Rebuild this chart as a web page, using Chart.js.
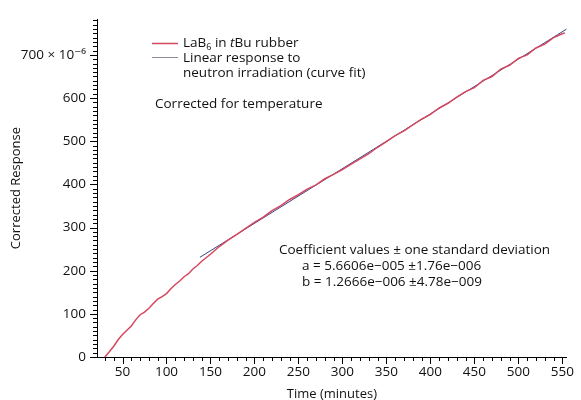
<!doctype html>
<html lang="en">
<head>
  <meta charset="utf-8">
  <title>Corrected response</title>
  <style>
    html, body { margin: 0; padding: 0; background: #fff; }
    #wrap { width: 581px; height: 400px; position: relative; }
  </style>
</head>
<body>
  <div id="wrap"><canvas id="myChart"></canvas></div>

  <script src="https://cdn.jsdelivr.net/npm/chart.js@4/dist/chart.umd.min.js"></script>
  <script>
  // measured response (units of 1e-6) vs time in minutes
  const times = [30, 35, 40, 45, 50, 55, 60, 65, 70, 75, 80, 85, 90, 95, 100, 105, 110, 115, 120, 125,
    130, 135, 140, 145, 150, 160, 170, 180, 190, 200, 210, 220, 230, 240, 250, 260, 270, 280, 290,
    300, 310, 320, 330, 340, 350, 360, 370, 380, 390, 400, 410, 420, 430, 440, 450, 460, 470, 480,
    490, 500, 510, 520, 530, 540, 550, 553];
  const response = [0, 12, 25, 40, 52, 62, 72, 86, 98, 104, 113, 124, 134, 140, 147, 158, 168, 176, 186, 193,
    204, 212, 222, 230, 238, 256, 271, 284, 298, 312, 324, 339, 351, 365, 376, 389, 399, 413, 423,
    434, 447, 459, 471, 486, 499, 513, 524, 538, 551, 562, 577, 588, 602, 615, 624, 641, 650, 667,
    676, 692, 700, 716, 725, 740, 749, 751];

  // linear fit, end points
  const fitTimes = [138, 555];
  const fitValues = [231, 760];

  const xTicks = [50, 100, 150, 200, 250, 300, 350, 400, 450, 500, 550];
  const yTicks = [0, 100, 200, 300, 400, 500, 600, 700];

  const FONT = '"Open Sans", "DejaVu Sans", sans-serif';
  const RED = '#d4485f';
  const BLUE = '#35458a';

  // minor / major tick marks and the text blocks
  const extras = {
    id: 'extras',
    afterDraw(chart) {
      const ctx = chart.ctx;
      const x = chart.scales.x, y = chart.scales.y;
      ctx.save();
      ctx.strokeStyle = '#000';
      ctx.lineWidth = 1;
      ctx.beginPath();
      for (let v = 30; v <= 550; v += 10) {
        const px = Math.round(x.getPixelForValue(v)) + 0.5;
        const len = v % 50 === 0 ? 7 : 4;
        ctx.moveTo(px, y.bottom);
        ctx.lineTo(px, y.bottom + len);
      }
      for (let v = 0; v <= 780; v += 10) {
        const py = Math.round(y.getPixelForValue(v)) + 0.5;
        const len = v % 100 === 0 ? 7 : 4;
        ctx.moveTo(x.left, py);
        ctx.lineTo(x.left - len, py);
      }
      ctx.stroke();

      // legend
      ctx.lineWidth = 1.5;
      ctx.strokeStyle = RED;
      ctx.beginPath(); ctx.moveTo(152, 43.5); ctx.lineTo(178, 43.5); ctx.stroke();
      ctx.lineWidth = 1;
      ctx.strokeStyle = '#8a8e9c';
      ctx.beginPath(); ctx.moveTo(152, 57.5); ctx.lineTo(178, 57.5); ctx.stroke();

      const F = '13.5px ' + FONT;
      ctx.fillStyle = '#111';
      ctx.textBaseline = 'middle';
      ctx.textAlign = 'left';
      ctx.font = F;
      let tx = 183;
      ctx.fillText('LaB', tx, 43); tx += ctx.measureText('LaB').width;
      ctx.font = '9px ' + FONT;
      ctx.fillText('6', tx, 47); tx += ctx.measureText('6').width;
      ctx.font = F;
      ctx.fillText(' in ', tx, 43); tx += ctx.measureText(' in ').width;
      ctx.font = 'italic ' + F;
      ctx.fillText('t', tx, 43); tx += ctx.measureText('t').width;
      ctx.font = F;
      ctx.fillText('Bu rubber', tx, 43);
      ctx.fillText('Linear response to', 183, 58);
      ctx.fillText('neutron irradiation (curve fit)', 183, 73);
      ctx.fillText('Corrected for temperature', 155, 104);

      ctx.fillText('Coefficient values \u00b1 one standard deviation', 279, 250);
      ctx.fillText('a = 5.6606e\u2212005 \u00b11.76e\u2212006', 302, 266);
      ctx.fillText('b = 1.2666e\u2212006 \u00b14.78e\u2212009', 302, 282);
      ctx.restore();
    }
  };

  const ctx = document.getElementById('myChart').getContext('2d');
  new Chart(ctx, {
    type: 'line',
    data: {
      datasets: [
        {
          label: 'LaB6 in tBu rubber',
          data: times.map((t, i) => ({ x: t, y: response[i] })),
          borderColor: RED,
          borderWidth: 1.5,
          pointRadius: 0,
          tension: 0,
        },
        {
          label: 'Linear response to neutron irradiation (curve fit)',
          data: fitTimes.map((t, i) => ({ x: t, y: fitValues[i] })),
          borderColor: BLUE,
          borderWidth: 1,
          pointRadius: 0,
          tension: 0,
        },
      ]
    },
    options: {
      responsive: true,
      maintainAspectRatio: false,
      animation: false,
      layout: { padding: { top: 14, right: 11, left: 0, bottom: 0 } },
      plugins: {
        legend: { display: false },
        tooltip: { enabled: false },
      },
      scales: {
        x: {
          type: 'linear',
          min: 21,
          max: 555,
          afterBuildTicks: s => { s.ticks = xTicks.map(v => ({ value: v })); },
          afterFit: s => { s.height = 43; },
          grid: { display: false, drawTicks: false },
          border: { display: true, color: '#000', width: 1 },
          ticks: { color: '#111', font: { family: FONT, size: 13.5 }, padding: 7, maxRotation: 0 },
          title: { display: true, text: 'Time (minutes)', color: '#111', font: { family: FONT, size: 13 }, padding: { top: 0, bottom: -2 } },
        },
        y: {
          type: 'linear',
          min: 0,
          max: 783,
          afterBuildTicks: s => { s.ticks = yTicks.map(v => ({ value: v })); },
          afterFit: s => { s.width = 97; },
          grid: { display: false, drawTicks: false },
          border: { display: true, color: '#000', width: 1 },
          ticks: {
            color: '#111', font: { family: FONT, size: 13.5 }, padding: 11,
            callback: v => v === 700 ? '700 \u00d7 10\u207b\u2076' : String(v),
          },
          title: { display: true, text: 'Corrected Response', color: '#111', font: { family: FONT, size: 13 }, padding: { top: 8, bottom: 0 } },
        },
      }
    },
    plugins: [extras]
  });
  </script>
</body>
</html>
